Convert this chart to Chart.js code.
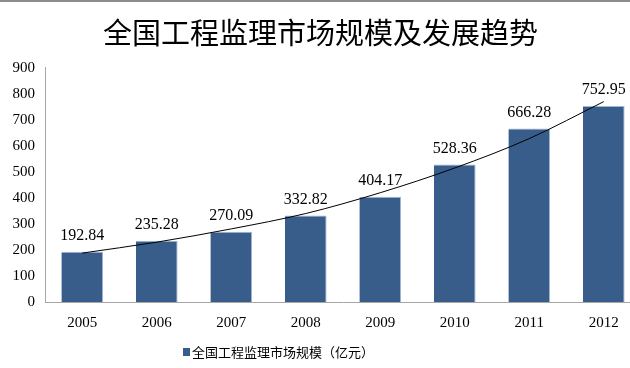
<!DOCTYPE html>
<html>
<head>
<meta charset="utf-8">
<script src="https://cdn.jsdelivr.net/npm/chart.js@4.4.0/dist/chart.umd.min.js"></script>
<style>
  html, body { margin: 0; padding: 0; overflow: hidden; background: #fff; }
  #wrap { position: relative; width: 650px; height: 368px; }
  #topline { position: absolute; left: 0; top: 0; width: 650px; height: 2px; background: #8c8c8c; }
</style>
</head>
<body>
<div id="wrap">
  <canvas id="myChart" width="650" height="368"></canvas>
  <div id="topline"></div>
</div>
<script>
var years = ['2005', '2006', '2007', '2008', '2009', '2010', '2011', '2012'];
var scaleValues = [192.84, 235.28, 270.09, 332.82, 404.17, 528.36, 666.28, 752.95];
// trend line at each year
var trendValues = [188, 230, 281, 340, 420, 515, 628, 770];
var yTicks = [0, 100, 200, 300, 400, 500, 600, 700, 800, 900];
var chartTitle = '全国工程监理市场规模及发展趋势';
var seriesName = '全国工程监理市场规模（亿元）';

var barColor = '#385D8A';

// value labels above the bars
var valueLabels = {
  id: 'valueLabels',
  afterDatasetsDraw: function(chart) {
    var ctx = chart.ctx;
    var meta = chart.getDatasetMeta(1);
    ctx.save();
    ctx.font = '16px "Liberation Serif"';
    ctx.fillStyle = '#000';
    ctx.textAlign = 'center';
    ctx.textBaseline = 'middle';
    meta.data.forEach(function(bar, i) {
      ctx.fillText(scaleValues[i].toFixed(2), bar.x, bar.y - 16);
    });
    ctx.restore();
  }
};

// legend drawn by hand, it sits left of centre in the original
var ownLegend = {
  id: 'ownLegend',
  afterDraw: function(chart) {
    var ctx = chart.ctx;
    ctx.save();
    ctx.fillStyle = barColor;
    ctx.fillRect(183, 348, 7, 8);
    ctx.fillStyle = '#000';
    ctx.font = '13px "Noto Sans CJK SC"';
    ctx.textAlign = 'left';
    ctx.textBaseline = 'middle';
    ctx.fillText(seriesName, 192, 352);
    ctx.restore();
  }
};

var ctx = document.getElementById('myChart').getContext('2d');
var chart = new Chart(ctx, {
  type: 'bar',
  data: {
    labels: years,
    datasets: [{
      type: 'line',
      label: 'trend',
      data: trendValues,
      borderColor: '#000',
      borderWidth: 1,
      pointRadius: 0,
      cubicInterpolationMode: 'monotone',
      fill: false,
      order: 0
    }, {
      label: seriesName,
      data: scaleValues,
      backgroundColor: barColor,
      borderColor: '#9FB5D3',
      borderWidth: { top: 1, right: 1, left: 0, bottom: 0 },
      borderSkipped: false,
      barPercentage: 0.56,
      categoryPercentage: 1,
      order: 1
    }]
  },
  options: {
    responsive: false,
    animation: false,
    devicePixelRatio: 1,
    layout: { padding: { left: 0, right: 9, top: 0, bottom: 36 } },
    plugins: {
      legend: { display: false },
      tooltip: { enabled: false },
      title: {
        display: true,
        text: chartTitle,
        color: '#000',
        font: { family: '"Noto Sans CJK SC"', size: 29, weight: 'normal' },
        padding: { top: 16, bottom: 17 }
      }
    },
    scales: {
      x: {
        offset: true,
        grid: { display: false, drawTicks: false },
        border: { color: '#A6A6A6' },
        ticks: { color: '#000', font: { family: '"Liberation Serif"', size: 15 }, padding: 12 },
        afterFit: function(s) { s.height = 30; }
      },
      y: {
        min: 0,
        max: 900,
        afterBuildTicks: function(s) { s.ticks = yTicks.map(function(v) { return { value: v }; }); },
        grid: { display: false, drawTicks: false },
        border: { color: '#A6A6A6' },
        ticks: { color: '#000', font: { family: '"Liberation Serif"', size: 15 }, padding: 10 },
        afterFit: function(s) { s.width = 45; }
      }
    }
  },
  plugins: [valueLabels, ownLegend]
});
</script>
</body>
</html>
